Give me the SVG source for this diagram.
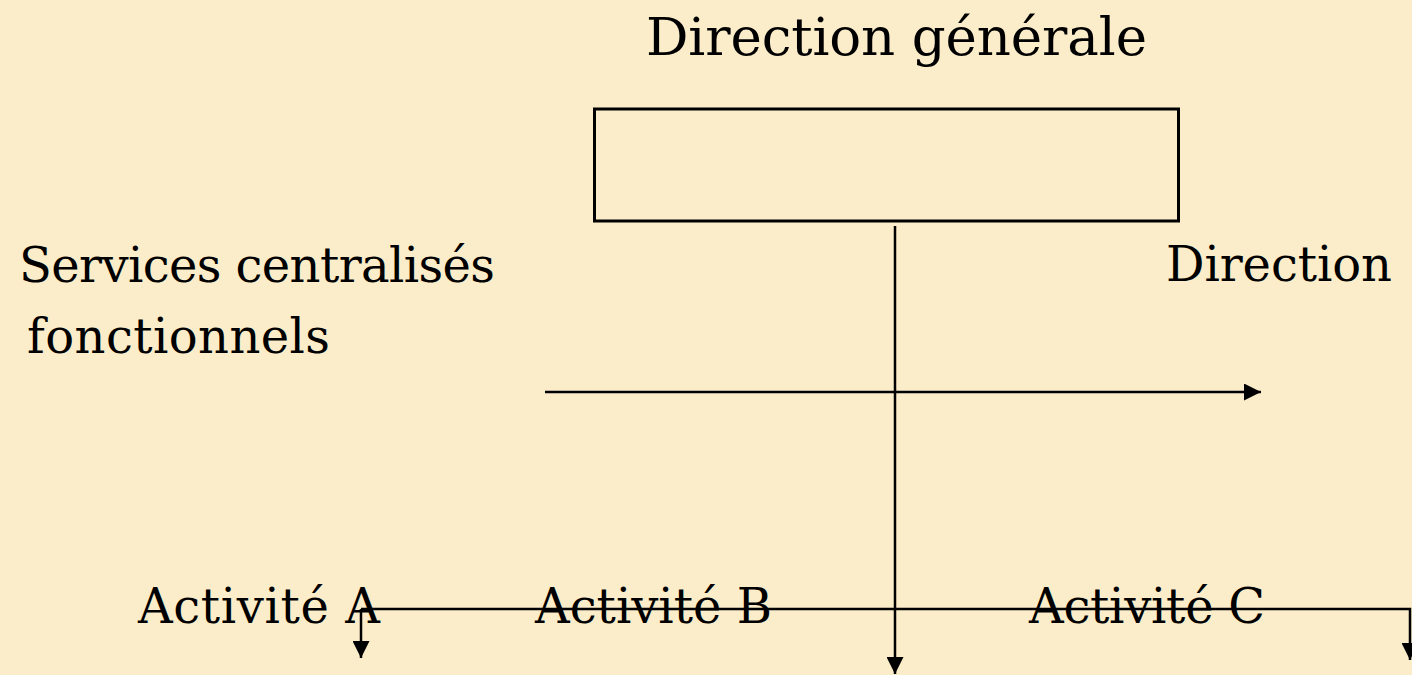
<svg xmlns="http://www.w3.org/2000/svg" width="1412" height="675" viewBox="0 0 1412 675">
<style>
.t{font-family:"DejaVu Serif","Liberation Serif",serif;font-size:48px;fill:#000}
.h{font-size:53px}
.ln{fill:none;stroke:#000;stroke-width:2.5}
.box{fill:none;stroke:#000;stroke-width:3}
</style>
<defs>
<marker id="ah" markerUnits="userSpaceOnUse" markerWidth="17" markerHeight="17" refX="16" refY="8" orient="auto" viewBox="0 0 16 16">
<path d="M0,0 L16,8 L0,16 z" fill="#000"/>
</marker>
</defs>
<rect width="1412" height="675" fill="#FBEDC9"/>
<g id="direction-generale">
<text class="t h" x="646" y="55" textLength="501">Direction générale</text>
<rect class="box" x="594.5" y="109" width="584" height="112"/>
</g>
<g id="services">
<text class="t" x="19" y="282" textLength="476">Services centralisés</text>
<text class="t" x="27" y="353" textLength="303">fonctionnels</text>
</g>
<g id="direction">
<text class="t" x="1166" y="281" textLength="226">Direction</text>
</g>
<g id="activite-a"><text class="t" x="138" y="623" textLength="242">Activité A</text></g>
<g id="activite-b"><text class="t" x="535" y="623" textLength="237">Activité B</text></g>
<g id="activite-c"><text class="t" x="1029" y="623" textLength="236">Activité C</text></g>
<g id="connectors">
<line class="ln" x1="895" y1="226" x2="895" y2="674" marker-end="url(#ah)"/>
<line class="ln" x1="545" y1="392" x2="1261" y2="392" marker-end="url(#ah)"/>
<line class="ln" x1="361" y1="609" x2="361" y2="658" marker-end="url(#ah)"/>
<polyline class="ln" points="361,609 1410,609 1410,660" marker-end="url(#ah)"/>
</g>
</svg>
